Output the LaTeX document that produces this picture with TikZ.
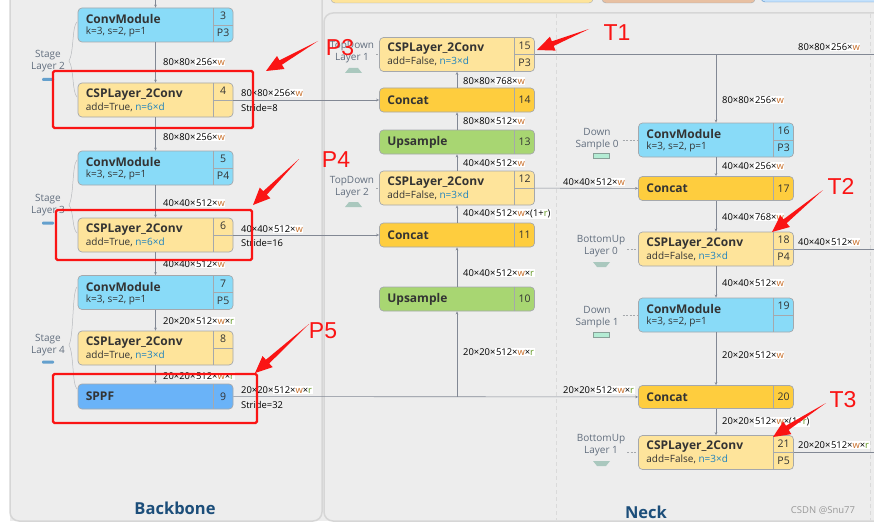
\documentclass[tikz,border=0pt]{standalone}
\usepackage{fontspec}
\setmainfont{Open Sans}
\newfontfamily\notefont{Liberation Sans}
\usetikzlibrary{calc,arrows.meta}

\definecolor{bgcol}{RGB}{237,237,237}
\definecolor{panelcol}{RGB}{214,214,214}
\definecolor{convcol}{RGB}{137,219,248}
\definecolor{cspcol}{RGB}{254,228,155}
\definecolor{catcol}{RGB}{254,205,62}
\definecolor{upcol}{RGB}{168,214,114}
\definecolor{sppfcol}{RGB}{106,179,248}
\definecolor{bordercol}{RGB}{165,168,172}
\definecolor{linecol}{RGB}{130,136,148}
\definecolor{txtcol}{RGB}{51,51,51}
\definecolor{sidecol}{RGB}{98,110,126}
\definecolor{wcol}{RGB}{200,110,40}
\definecolor{rcol}{RGB}{95,150,30}
\definecolor{ncol}{RGB}{30,130,190}
\definecolor{headcol}{RGB}{28,78,122}
\definecolor{annred}{RGB}{250,20,20}
\definecolor{barcol}{RGB}{100,160,205}
\definecolor{trapcol}{RGB}{170,200,190}
\definecolor{dscol}{RGB}{180,236,212}

\newcommand{\wv}{{\color{wcol}w}}
\newcommand{\rv}{{\color{rcol}r}}
\newcommand{\hl}[1]{{\setlength{\fboxsep}{0.6pt}\colorbox{white}{#1}}}

% two-line block: name, x, y, style, title, subtitle, number, level
\newcommand{\twoblk}[8]{%
  \node[#4, minimum width=155pt, minimum height=34pt] (#1) at (#2,#3) {};
  \draw[cellline] ($(#1.north east)+(-20.5,0)$) -- ($(#1.south east)+(-20.5,0)$);
  \draw[cellline] ($(#1.east)+(-20.5,0)$) -- (#1.east);
  \node[ttl] (#1t) at ($(#1.north west)+(8,11.5)$) {#5};
  \node[sub] (#1s) at ($(#1.north west)+(8,24.5)$) {#6};
  \node[num] (#1n) at ($(#1.north east)+(-10.25,8.5)$) {#7};
  \node[num] (#1p) at ($(#1.north east)+(-10.25,25.5)$) {#8};
}
% one-line block: name, x, y, style, height, title, number
\newcommand{\oneblk}[7]{%
  \node[#4, minimum width=155pt, minimum height=#5pt] (#1) at (#2,#3) {};
  \draw[cellline] ($(#1.north east)+(-20.5,0)$) -- ($(#1.south east)+(-20.5,0)$);
  \node[ttl] (#1t) at ($(#1.west)+(8,0)$) {#6};
  \node[num] (#1n) at ($(#1.east)+(-10.25,0)$) {#7};
}
% red screenshot arrow: tail, tip
\newcommand{\redarrow}[2]{%
  \coordinate (ta) at #1;
  \coordinate (tp) at #2;
  \coordinate (hb) at ($(tp)!17pt!(ta)$);
  \fill[annred] (ta) -- ($(hb)!2.5pt!90:(tp)$) -- ($(hb)!7.5pt!90:(tp)$) -- (tp)
    -- ($(hb)!7.5pt!-90:(tp)$) -- ($(hb)!2.5pt!-90:(tp)$) -- cycle;
}

\begin{document}
\begin{tikzpicture}[x=1pt, y=-1pt,
  blk/.style={draw=bordercol, line width=0.7pt, rounded corners=4pt},
  conv/.style={blk, fill=convcol},
  csp/.style={blk, fill=cspcol},
  cat/.style={blk, fill=catcol},
  ups/.style={blk, fill=upcol},
  sppf/.style={blk, fill=sppfcol},
  cellline/.style={draw=bordercol, line width=0.6pt},
  ttl/.style={anchor=west, inner sep=0pt, text=txtcol, font=\bfseries\fontsize{12}{14}\selectfont},
  sub/.style={anchor=west, inner sep=0pt, text=txtcol, font=\fontsize{10}{12}\selectfont},
  num/.style={inner sep=0pt, text=txtcol, font=\fontsize{10.5}{12}\selectfont},
  dim/.style={anchor=west, inner sep=0pt, text=black, font=\fontsize{9.4}{11}\selectfont},
  flow/.style={draw=linecol, line width=0.6pt, -{Stealth[length=3pt,width=2.6pt]}},
  plain/.style={draw=linecol, line width=0.6pt},
  side/.style={align=center, inner sep=0pt, text=sidecol, font=\fontsize{10}{12}\selectfont},
  sidelink/.style={draw=bordercol, line width=0.6pt, dash pattern=on 2pt off 1.5pt},
  brace/.style={draw=bordercol!80, line width=0.5pt},
  heading/.style={text=headcol, font=\bfseries\fontsize{16.5}{20}\selectfont},
  note/.style={text=annred, font=\notefont\fontsize{23}{26}\selectfont},
  redbox/.style={draw=annred, line width=2.2pt, rounded corners=1.5pt}]

\useasboundingbox (0,0) rectangle (874,524);
\fill[white] (0,0) rectangle (874,524);
\fill[bgcol] (10,0) rectangle (874,521);

% header boxes cut off at the top
\draw[bordercol, fill=cspcol, rounded corners=4pt] (331,-12) rectangle (593,3);
\draw[bordercol, fill={rgb,255:red,232;green,192;blue,162}, rounded corners=4pt] (602,-12) rectangle (755,3);
\draw[sppfcol!80!black, fill=sppfcol!40, rounded corners=4pt] (761,-12) rectangle (890,2);

% panels
\draw[panelcol, line width=1.5pt, fill=bgcol, rounded corners=9pt] (10,-12) rectangle (322,521);
\draw[panelcol, line width=1.5pt, fill=bgcol, rounded corners=9pt] (324,13) rectangle (890,521);
\draw[panelcol!90, line width=0.7pt, dash pattern=on 4pt off 3pt] (556,14) -- (556,520);
\draw[panelcol!90, line width=0.7pt, dash pattern=on 4pt off 3pt] (870,14) -- (870,520);

% backbone
\twoblk{conv3}{155.5}{25}{conv}{ConvModule}{k=3, s=2, p=1}{3}{P3}
\twoblk{csp4}{155.5}{100}{csp}{CSPLayer\_2Conv}{add=True, {\color{ncol}n=6×d}}{4}{}
\twoblk{conv5}{155.5}{168}{conv}{ConvModule}{k=3, s=2, p=1}{5}{P4}
\twoblk{csp6}{155.5}{235}{csp}{CSPLayer\_2Conv}{add=True, {\color{ncol}n=6×d}}{6}{}
\twoblk{conv7}{155.5}{292.5}{conv}{ConvModule}{k=3, s=2, p=1}{7}{P5}
\twoblk{csp8}{155.5}{348}{csp}{CSPLayer\_2Conv}{add=True, {\color{ncol}n=3×d}}{8}{}
\oneblk{sppf9}{155.5}{396.5}{sppf}{25}{SPPF}{9}

% neck, top-down
\twoblk{csp15}{457}{54.5}{csp}{CSPLayer\_2Conv}{add=False, {\color{ncol}n=3×d}}{15}{P3}
\oneblk{cat14}{457}{100}{cat}{24}{Concat}{14}
\oneblk{up13}{457}{142}{ups}{24}{Upsample}{13}
\twoblk{csp12}{457}{188}{csp}{CSPLayer\_2Conv}{add=False, {\color{ncol}n=3×d}}{12}{}
\oneblk{cat11}{457}{235}{cat}{24}{Concat}{11}
\oneblk{up10}{457}{299}{ups}{24}{Upsample}{10}

% neck, bottom-up
\twoblk{conv16}{716}{140}{conv}{ConvModule}{k=3, s=2, p=1}{16}{P3}
\oneblk{cat17}{716}{188.5}{cat}{24}{Concat}{17}
\twoblk{csp18}{716}{249}{csp}{CSPLayer\_2Conv}{add=False, {\color{ncol}n=3×d}}{18}{P4}
\twoblk{conv19}{716}{315}{conv}{ConvModule}{k=3, s=2, p=1}{19}{}
\oneblk{cat20}{716}{397}{cat}{23}{Concat}{20}
\twoblk{csp21}{716}{452.5}{csp}{CSPLayer\_2Conv}{add=False, {\color{ncol}n=3×d}}{21}{P5}

% connectors
\coordinate (topin) at (155.5,0);
\coordinate (out3) at (874,54.5);
\coordinate (out4) at (874,249);
\coordinate (out5) at (874,452.5);
\draw[flow] (topin) -- (conv3);
\draw[flow] (conv3) -- (csp4);
\draw[flow] (csp4) -- (conv5);
\draw[flow] (conv5) -- (csp6);
\draw[flow] (csp6) -- (conv7);
\draw[flow] (conv7) -- (csp8);
\draw[flow] (csp8) -- (sppf9);
\draw[flow] (csp4) -- (cat14);
\draw[flow] (csp6) -- (cat11);
\draw[flow] (sppf9) -- (cat20);
\draw[flow] (sppf9.east -| up10) -- (up10);
\draw[flow] (up10) -- (cat11);
\draw[flow] (cat11) -- (csp12);
\draw[flow] (csp12) -- (up13);
\draw[flow] (up13) -- (cat14);
\draw[flow] (cat14) -- (csp15);
\draw[plain] (csp15) -- (out3);
\draw[flow] (csp15.east -| conv16) -- (conv16);
\draw[flow] (csp12) -- (cat17);
\draw[flow] (conv16) -- (cat17);
\draw[flow] (cat17) -- (csp18);
\draw[flow] (csp18) -- (conv19);
\draw[flow] (conv19) -- (cat20);
\draw[flow] (cat20) -- (csp21);
\draw[plain] (csp18) -- (out4);
\draw[plain] (csp21) -- (out5);

% tensor sizes
\foreach \x/\y/\a/\b [count=\i] in {
  163/62/{80×80×}/{256×\wv}, 163/137/{80×80×}/{256×\wv},
  163/203/{40×40×}/{512×\wv}, 163/264/{40×40×}/{512×\wv},
  163/321/{20×20×}/{512×\wv×\rv}, 163/376/{20×20×}/{512×\wv×\rv},
  241/93/{80×80×}/{256×\wv}, 241/229/{40×40×}/{512×\wv}, 241/390/{20×20×}/{512×\wv×\rv},
  463/81/{80×80×}/{768×\wv}, 463/121/{80×80×}/{512×\wv}, 463/163/{40×40×}/{512×\wv},
  463/214/{40×40×}/{512×\wv×(1+\rv)}, 463/273/{40×40×}/{512×\wv×\rv}, 463/352/{20×20×}/{512×\wv×\rv},
  722/100/{80×80×}/{256×\wv}, 722/166/{40×40×}/{256×\wv}, 722/217/{40×40×}/{768×\wv},
  722/283/{40×40×}/{512×\wv}, 722/355/{20×20×}/{512×\wv}, 722/422/{20×20×}/{512×\wv×(1+\rv)},
  563/182/{40×40×}/{512×\wv}, 563/390/{20×20×}/{512×\wv×\rv},
  798/47/{80×80×}/{256×\wv}, 798/242/{40×40×}/{512×\wv}, 798/445/{20×20×}/{512×\wv×\rv}}
  \node[dim] (sz\i) at (\x,\y) {\a\hl{\b}};
\node[dim] (st8) at (241,108) {Stride=8};
\node[dim] (st16) at (241,243) {Stride=16};
\node[dim] (st32) at (241,405) {Stride=32};

% stage labels
\node[side] (stage2) at (48,61) {Stage\\Layer 2};
\node[side] (stage3) at (48,205) {Stage\\Layer 3};
\node[side] (stage4) at (48,345) {Stage\\Layer 4};
\foreach \y in {79.5,223,362}
  \fill[barcol, rounded corners=1pt] (42,\y-1.5) rectangle (54,\y+1.5);
\draw[brace] (77,22) .. controls (72,26) and (74,52) .. (69,61) .. controls (74,68) and (72,92) .. (77,97);
\draw[brace] (77,160) .. controls (72,165) and (74,196) .. (69,205) .. controls (74,212) and (72,229) .. (77,233);
\draw[brace] (77,287) .. controls (72,292) and (74,335) .. (69,345) .. controls (74,354) and (72,384) .. (77,389);

% neck side labels
\node[side] (td1) at (352,52) {TopDown\\Layer 1};
\node[side] (td2) at (352,187) {TopDown\\Layer 2};
\node[side] (ds0) at (597,139) {Down\\Sample 0};
\node[side] (bu0) at (601,246) {BottomUp\\Layer 0};
\node[side] (ds1) at (597,317) {Down\\Sample 1};
\node[side] (bu1) at (601,445) {BottomUp\\Layer 1};
\draw[sidelink] (csp15.west -| td1.east) ++(2,0) -- (csp15.west);
\draw[sidelink] (csp12.west -| td2.east) ++(2,0) -- (csp12.west);
\draw[sidelink] (conv16.west -| ds0.east) ++(4,0) -- (conv16.west);
\draw[sidelink] (csp18.west -| bu0.east) ++(2,0) -- (csp18.west);
\draw[sidelink] (conv19.west -| ds1.east) ++(4,0) -- (conv19.west);
\draw[sidelink] (csp21.west -| bu1.east) ++(2,0) -- (csp21.west);
\foreach \y in {68,202}
  \fill[trapcol] (345,\y+5) -- (362,\y+5) -- (358,\y) -- (349,\y) -- cycle;
\foreach \y in {262,461}
  \fill[trapcol] (593,\y) -- (610,\y) -- (606,\y+5) -- (597,\y+5) -- cycle;
\foreach \y in {153,332}
  \draw[trapcol!80!black, fill=dscol, line width=0.4pt] (593,\y) rectangle (609,\y+5);

% panel titles
\node[heading] (bbtitle) at (175,508) {Backbone};
\node[heading] (necktitle) at (646,512) {Neck};
\node[text=black!40, font=\fontsize{9.5}{12}\selectfont] (mark) at (823,510) {CSDN @Snu77};

% red annotations
\draw[redbox] (53,71) rectangle (253,128);
\draw[redbox] (56,210) rectangle (252,260);
\draw[redbox] (53,374) rectangle (257,423);
\redarrow{(318,41)}{(266,71)}
\redarrow{(299,159)}{(253,205)}
\redarrow{(309,324)}{(255,373)}
\redarrow{(589,29)}{(537,50)}
\redarrow{(823,190)}{(772,232)}
\redarrow{(826,403)}{(773,437)}
\node[note] (pthree) at (340,48) {P3};
\node[note] (pfour) at (336,160) {P4};
\node[note] (pfive) at (323,331) {P5};
\node[note] (tone) at (617,33) {T1};
\node[note] (ttwo) at (841,186) {T2};
\node[note] (tthree) at (843,400) {T3};
\end{tikzpicture}
\end{document}
